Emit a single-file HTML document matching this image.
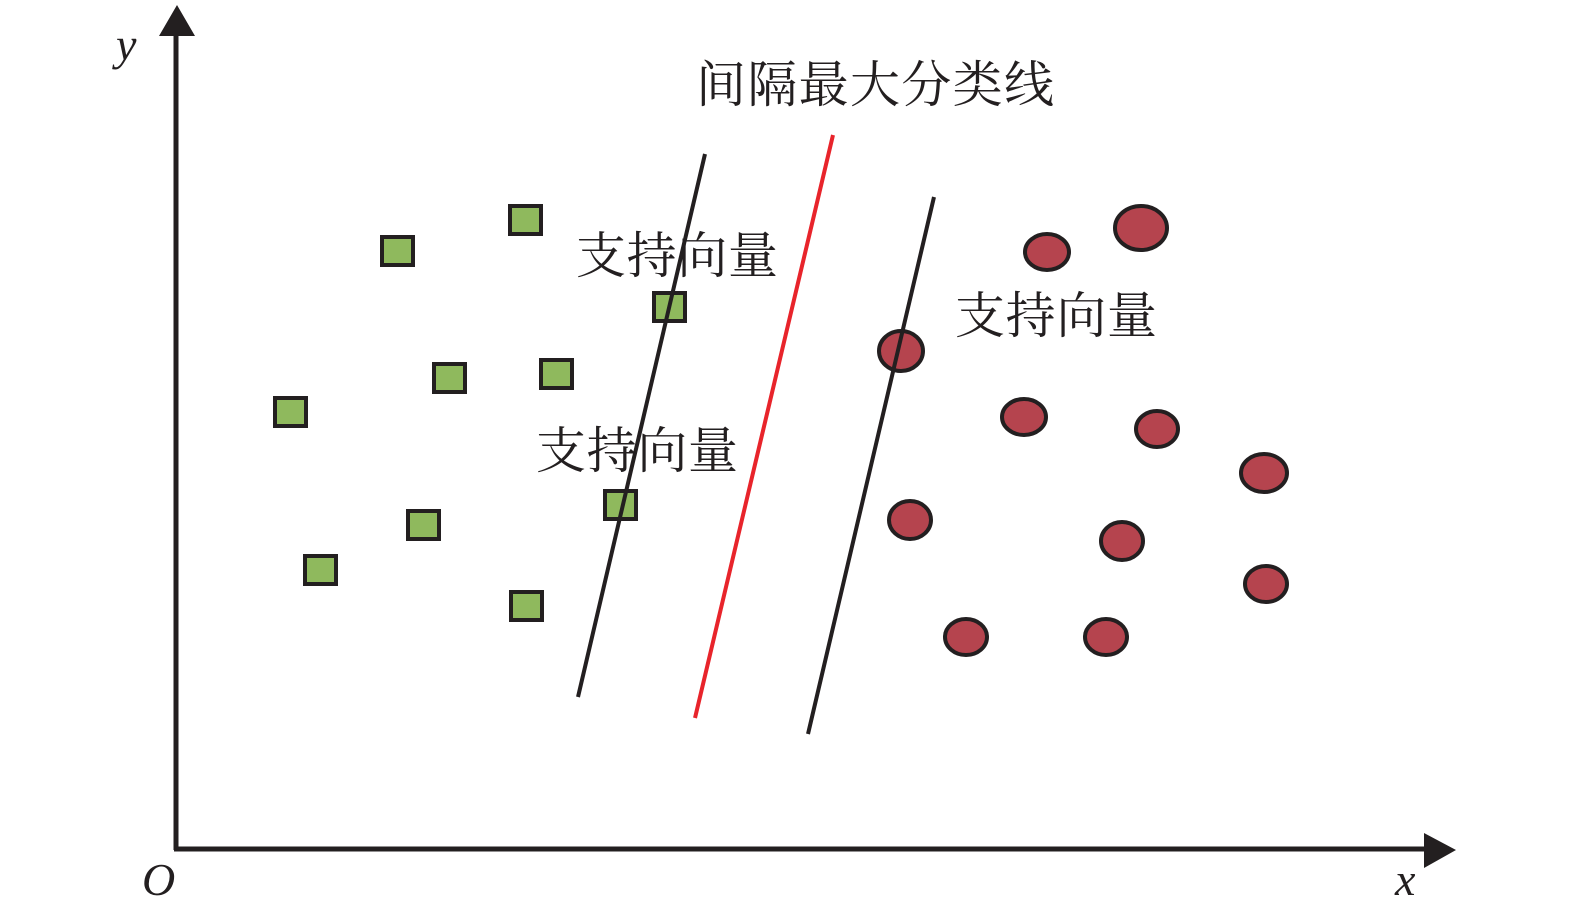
<!DOCTYPE html>
<html><head><meta charset="utf-8"><style>
html,body{margin:0;padding:0;background:#fff;}
svg{display:block;}
.cn{font-family:"Liberation Serif","Noto Serif CJK SC",serif;font-size:50px;fill:#231f20;}
.it{font-family:"Liberation Serif",serif;font-style:italic;font-size:46px;fill:#231f20;}
</style></head><body>
<svg width="1575" height="920" viewBox="0 0 1575 920">
<line x1="176" y1="30" x2="176" y2="850" stroke="#231f20" stroke-width="5"/>
<polygon points="177,5 159,36 195,36" fill="#231f20"/>
<line x1="174" y1="849" x2="1428" y2="849" stroke="#231f20" stroke-width="5"/>
<polygon points="1456,850 1424,833 1424,868" fill="#231f20"/>
<text class="it" x="116" y="60">y</text>
<text class="it" x="142" y="895">O</text>
<text class="it" x="1395" y="895">x</text>

<g fill="#8fb95d" stroke="#231f20" stroke-width="4">
<rect x="510" y="206" width="31" height="28"/>
<rect x="382" y="237" width="31" height="28"/>
<rect x="654" y="293" width="31" height="28"/>
<rect x="434" y="364" width="31" height="28"/>
<rect x="541" y="360" width="31" height="28"/>
<rect x="275" y="398" width="31" height="28"/>
<rect x="605" y="491" width="31" height="28"/>
<rect x="408" y="511" width="31" height="28"/>
<rect x="305" y="556" width="31" height="28"/>
<rect x="511" y="592" width="31" height="28"/>
</g>

<g fill="#b5444e" stroke="#231f20" stroke-width="4">
<ellipse cx="1141" cy="228" rx="26" ry="22"/>
<ellipse cx="1047" cy="252" rx="22" ry="18"/>
<ellipse cx="901" cy="351" rx="22" ry="20"/>
<ellipse cx="1024" cy="417" rx="22" ry="18"/>
<ellipse cx="1157" cy="429" rx="21" ry="18"/>
<ellipse cx="1264" cy="473" rx="23" ry="19"/>
<ellipse cx="910" cy="520" rx="21" ry="19"/>
<ellipse cx="1122" cy="541" rx="21" ry="19"/>
<ellipse cx="1266" cy="584" rx="21" ry="18"/>
<ellipse cx="966" cy="637" rx="21" ry="18"/>
<ellipse cx="1106" cy="637" rx="21" ry="18"/>
</g>

<line x1="705" y1="154" x2="578" y2="697" stroke="#231f20" stroke-width="4"/>
<line x1="833" y1="135" x2="695" y2="718" stroke="#e8242b" stroke-width="4"/>
<line x1="934" y1="197" x2="808" y2="734" stroke="#231f20" stroke-width="4"/>

<text class="cn" x="696" y="102" textLength="358">间隔最大分类线</text>
<text class="cn" x="576" y="273" textLength="202">支持向量</text>
<text class="cn" x="536" y="468" textLength="202">支持向量</text>
<text class="cn" x="955" y="333" textLength="202">支持向量</text>
</svg>
</body></html>
